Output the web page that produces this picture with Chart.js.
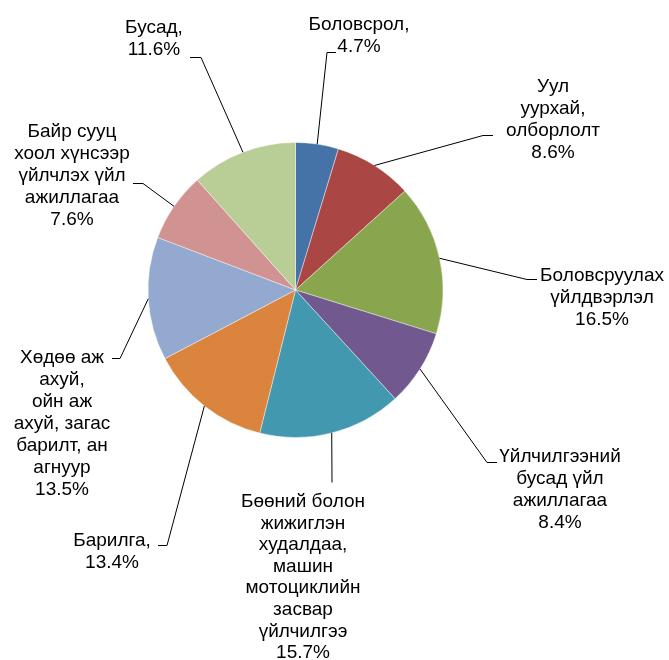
<!DOCTYPE html>
<html>
<head>
<meta charset="utf-8">
<script src="https://cdn.jsdelivr.net/npm/chart.js@4/dist/chart.umd.min.js"></script>
<style>
  html, body { margin: 0; padding: 0; background: #fff; }
  #wrap { width: 669px; height: 660px; }
</style>
</head>
<body>
<div id="wrap"><canvas id="myChart" width="669" height="660"></canvas></div>
<script>
// sectors, clockwise from 12 o'clock (label lines as wrapped in the picture)
const categories = [
    ['Боловсрол,'],
    ['Уул', 'уурхай,', 'олборлолт'],
    ['Боловсруулах', 'үйлдвэрлэл'],
    ['Үйлчилгээний', 'бусад үйл', 'ажиллагаа'],
    ['Бөөний болон', 'жижиглэн', 'худалдаа,', 'машин', 'мотоциклийн', 'засвар', 'үйлчилгээ'],
    ['Барилга,'],
    ['Хөдөө аж', 'ахуй,', 'ойн аж', 'ахуй, загас', 'барилт, ан', 'агнуур'],
    ['Байр сууц', 'хоол хүнсээр', 'үйлчлэх үйл', 'ажиллагаа'],
    ['Бусад,']
];
const shares = [4.7, 8.6, 16.5, 8.4, 15.7, 13.4, 13.5, 7.6, 11.6];
const colors = ['#4572A7', '#AA4643', '#89A54E', '#71588F', '#4198AF', '#DB843D', '#93A9CF', '#D19392', '#B9CD96'];

// where each label sits: text centre x, first baseline, leader elbow and end
const labelPos = [
    { cx: 359, y: 30,  elbow: [327, 52],  end: [336, 52] },
    { cx: 553, y: 92,  elbow: [483, 135], end: [493, 135] },
    { cx: 602, y: 281, elbow: [527, 279], end: [537, 279] },
    { cx: 560, y: 462, elbow: [487, 462], end: [497, 462] },
    { cx: 303, y: 507, elbow: [332, 482], end: [332, 482], lh: 21.6 },
    { cx: 112, y: 546, elbow: [167, 545], end: [158, 545] },
    { cx: 62,  y: 363, elbow: [120, 358], end: [112, 358] },
    { cx: 72,  y: 137, elbow: [143, 183], end: [133, 183] },
    { cx: 154, y: 33,  elbow: [201, 57],  end: [190, 57] }
];

const leaderLabels = {
    id: 'leaderLabels',
    afterDatasetsDraw(chart) {
        const ctx = chart.ctx;
        const arcs = chart.getDatasetMeta(0).data;
        ctx.save();
        arcs.forEach((arc, i) => {
            const p = arc.getProps(['x', 'y', 'startAngle', 'endAngle', 'outerRadius'], true);
            const mid = (p.startAngle + p.endAngle) / 2;
            const sx = p.x + Math.cos(mid) * p.outerRadius;
            const sy = p.y + Math.sin(mid) * p.outerRadius;
            const pos = labelPos[i];

            ctx.strokeStyle = '#000';
            ctx.lineWidth = 1;
            ctx.beginPath();
            ctx.moveTo(sx, sy);
            ctx.lineTo(pos.elbow[0], pos.elbow[1] + 0.5);
            ctx.lineTo(pos.end[0], pos.end[1] + 0.5);
            ctx.stroke();

            const lines = categories[i].concat([shares[i].toFixed(1) + '%']);
            const lh = pos.lh || 22;
            ctx.fillStyle = '#000';
            ctx.font = '19px "Liberation Sans", Arial, sans-serif';
            ctx.textAlign = 'center';
            ctx.textBaseline = 'alphabetic';
            lines.forEach((t, k) => ctx.fillText(t, pos.cx, pos.y + k * lh));
        });
        ctx.restore();
    }
};

new Chart(document.getElementById('myChart'), {
    type: 'pie',
    data: {
        labels: categories.map(c => c.join(' ')),
        datasets: [{
            data: shares,
            backgroundColor: colors,
            borderColor: 'rgba(255,255,255,0.7)',
            borderWidth: 0.6,
            radius: 147.5
        }]
    },
    options: {
        responsive: false,
        animation: false,
        devicePixelRatio: 1,
        layout: { padding: { left: 0, right: 78, top: 0, bottom: 80 } },
        plugins: {
            legend: { display: false },
            tooltip: { enabled: false }
        }
    },
    plugins: [leaderLabels]
});
</script>
</body>
</html>
